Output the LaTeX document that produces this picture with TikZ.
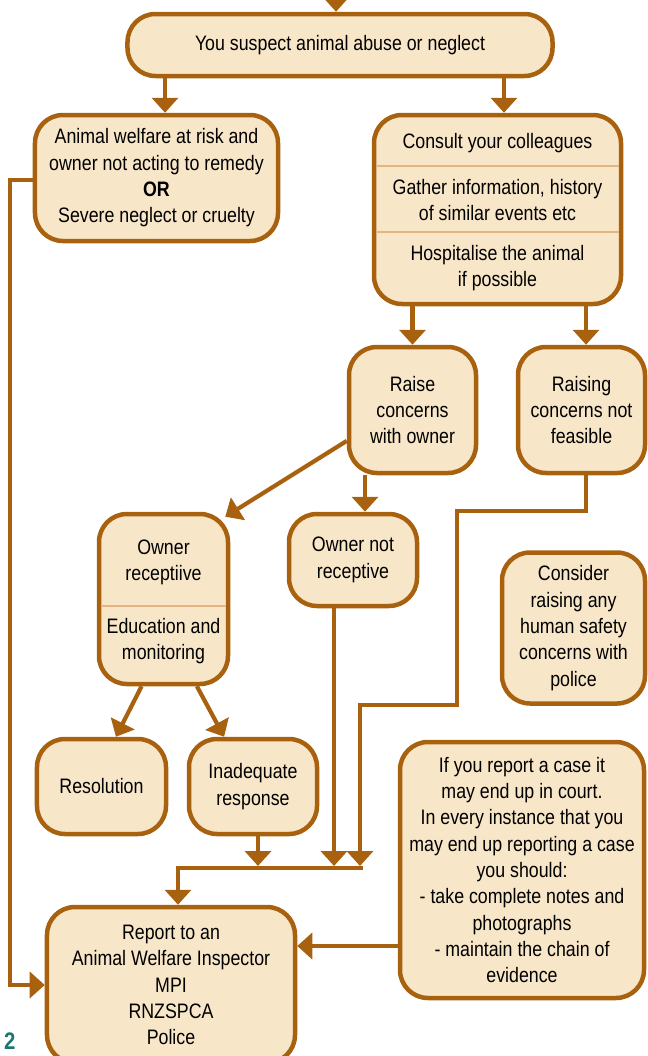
\documentclass[tikz,border=0pt]{standalone}
\usepackage{fontspec}
\setmainfont{Liberation Sans}[FakeStretch=0.85]
\usetikzlibrary{arrows.meta}

\definecolor{boxline}{HTML}{A8620F}
\definecolor{boxfill}{HTML}{F8E6C8}
\definecolor{divline}{HTML}{E4B482}
\definecolor{pageteal}{HTML}{1D7570}

\begin{document}
\begin{tikzpicture}[
    x=1bp, y=-1bp,
    font=\fontsize{21}{26.4}\selectfont,
    box/.style={draw=boxline, fill=boxfill, line width=4.5bp, rounded corners=28bp, align=center, inner sep=0pt},
    txt/.style={align=center, inner sep=0pt},
    arrow/.style={-{Triangle[width=26bp, length=15bp]}, draw=boxline, line width=4.2bp},
    divider/.style={draw=divline, line width=1.5bp, shorten <=4.5bp, shorten >=4.5bp}
]
\useasboundingbox (0,0) rectangle (648,1056);

\node[box, minimum width=425bp, minimum height=62bp] (suspect) at (340,45) {You suspect animal abuse or neglect};
\node[box, minimum width=243bp, minimum height=126bp] (risk) at (156.5,178) {Animal welfare at risk and\\owner not acting to remedy\\\textbf{OR}\\Severe neglect or cruelty};

\node[box, minimum width=247bp, minimum height=189bp] (consult) at (497.5,209.5) {};
\node[txt] (consult1) at (497.5,143) {Consult your colleagues};
\node[txt] (consult2) at (497.5,200) {Gather information, history\\of similar events etc};
\node[txt] (consult3) at (497.5,268) {Hospitalise the animal\\if possible};
\draw[divider] (consult.west |- 0,166) -- (consult.east |- 0,166);
\draw[divider] (consult.west |- 0,232) -- (consult.east |- 0,232);

\node[box, minimum width=127bp, minimum height=126bp] (raise) at (412.5,410) {Raise\\concerns\\with owner};
\node[box, minimum width=127bp, minimum height=126bp] (notfeas) at (581.5,410) {Raising\\concerns not\\feasible};

\node[box, minimum width=129bp, minimum height=170bp] (recv) at (163.5,599) {};
\node[txt] (recv1) at (163.5,562.5) {Owner\\receptiive};
\node[txt] (recv2) at (163.5,641) {Education and\\monitoring};
\draw[divider] (recv.west |- 0,606) -- (recv.east |- 0,606);

\node[box, minimum width=128bp, minimum height=92bp] (notrecv) at (353,560) {Owner not\\receptive};
\node[box, minimum width=143bp, minimum height=151bp] (consider) at (573.5,628) {Consider\\raising any\\human safety\\concerns with\\police};

\node[box, minimum width=129bp, minimum height=95bp] (resol) at (101.5,786.5) {Resolution};
\node[box, minimum width=128bp, minimum height=95bp] (inadeq) at (253,786.5) {Inadequate\\response};

\node[box, minimum width=244bp, minimum height=256bp] (note) at (522,870) {If you report a case it\\may end up in court.\\In every instance that you\\may end up reporting a case\\you should:\\- take complete notes and\\photographs\\- maintain the chain of\\evidence};
\node[box, minimum width=248bp, minimum height=156bp] (report) at (171,985) {Report to an\\Animal Welfare Inspector\\MPI\\RNZSPCA\\Police};

\node[font=\fontsize{24}{24}\selectfont\bfseries, text=pageteal, anchor=north west, inner sep=0pt] (pagenum) at (4,1033) {2};

% connectors
\coordinate (entry) at (336,-20);
\coordinate (mergeL) at (178,868);
\coordinate (mergeR) at (363,868);

\draw[arrow] (entry) -- (entry |- suspect.north);
\draw[arrow] (suspect.south -| 165,0) -- (risk.north -| 165,0);
\draw[arrow] (suspect.south -| 504,0) -- (consult.north -| 504,0);
\draw[arrow] (consult.south -| raise.north) -- (raise.north);
\draw[arrow] (consult.south -| 586,0) -- (notfeas.north -| 586,0);

\draw[arrow] ([yshift=-31]raise.west) -- ([xshift=-5,yshift=-5]recv.north east);
\draw[arrow] (raise.south -| 365,0) -- (notrecv.north -| 365,0);
\draw[arrow] (notfeas.south -| 586,0) |- (457,511) |- (360,705) -- (360,866);

\draw[arrow] ([xshift=-22]recv.south) -- ([xshift=14.5]resol.north);
\draw[arrow] ([xshift=33.5]recv.south) -- ([xshift=-29]inadeq.north);

\draw[arrow] (notrecv.south -| 334,0) -- (334,866);
\draw[arrow] (inadeq.south -| 258,0) -- (258,866);
\draw[arrow] (mergeR) -| (mergeL |- report.north);

\draw[arrow] (risk.west |- 0,180) -- (10,180) |- (report.west);
\draw[arrow] (note.west |- 0,946) -- (report.east |- 0,946);

\end{tikzpicture}
\end{document}
